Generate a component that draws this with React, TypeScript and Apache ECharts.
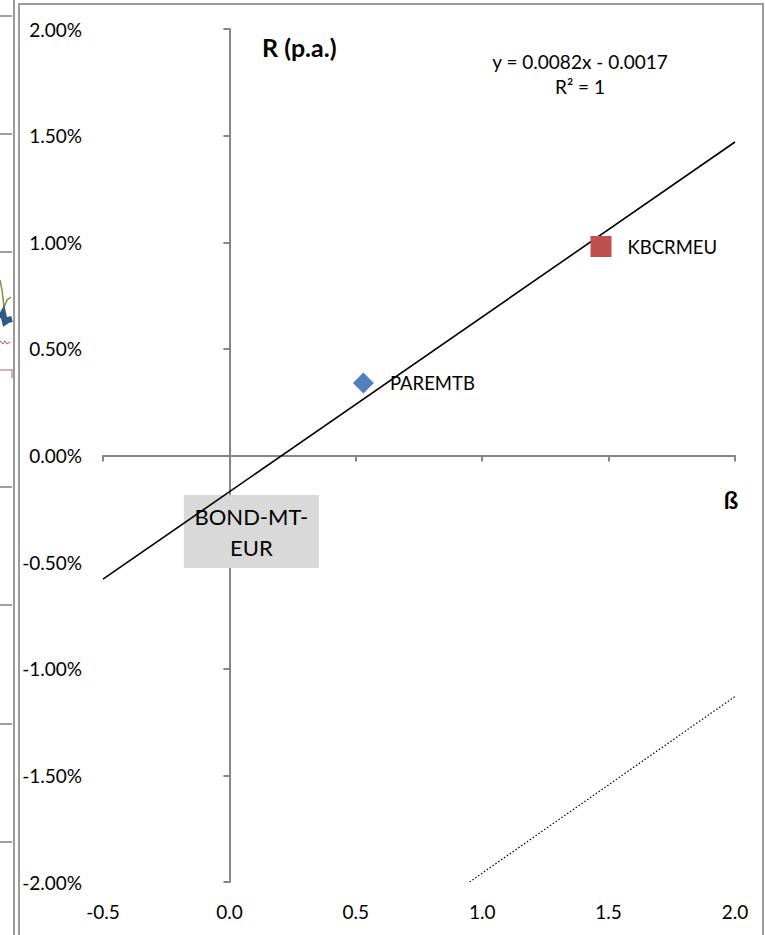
import React, { useEffect, useRef } from "react";
import * as echarts from "echarts";

// ---- data ----
const X_MIN = -0.5;
const X_MAX = 2.0;
const X_STEP = 0.5;
const Y_MIN = -2; // % p.a.
const Y_MAX = 2;
const Y_STEP = 0.5;

const POINT_NAMES = ["PAREMTB", "KBCRMEU"];
const POINT_BETA = [0.53, 1.47];
const POINT_RETURN = [0.34, 0.98]; // % p.a.
const POINT_COLORS = ["#4F81BD", "#C0504D"];
const POINT_SYMBOLS = ["diamond", "rect"];

const BENCH_NAME = "BOND-MT-EUR";
const BENCH_BETA = 0;
const BENCH_RETURN = 0;

const TREND_SLOPE = 0.0082;
const TREND_INTERCEPT = -0.0017;
const TREND_R2 = 1;

const DOTTED_BETA = [0.95, 2.0];
const DOTTED_RETURN = [-2.0, -1.13];

const Y_TITLE = "R (p.a.)";
const X_TITLE = "ß";

const FONT = "Lato, 'Open Sans', sans-serif";

export default function App() {
  const ref = useRef<HTMLDivElement>(null);
  useEffect(() => {
    document.body.style.margin = "0";
    const chart = echarts.init(ref.current!, null, { renderer: "svg" });
    const trend = (x: number) => (TREND_SLOPE * x + TREND_INTERCEPT) * 100;
    const gray = "#868686";
    const frame = "#9A9A9A";
    const fmtSigned = (v: number) =>
      (v < 0 ? " - " : " + ") + Math.abs(v).toFixed(4);

    const leftTicks = [16, 134, 252, 487, 605, 724, 842];

    const option: any = {
      animation: false,
      backgroundColor: "#ffffff",
      textStyle: { fontFamily: FONT },
      grid: { left: 103, right: 30, top: 29, bottom: 53 },
      xAxis: [
        {
          type: "value",
          min: X_MIN,
          max: X_MAX,
          interval: X_STEP,
          axisLine: {
            show: true,
            onZero: true,
            onZeroAxisIndex: 0,
            lineStyle: { color: gray, width: 2 },
          },
          axisTick: { show: true, length: 6, inside: false, lineStyle: { color: gray, width: 2 } },
          axisLabel: { show: false },
          splitLine: { show: false },
        },
        {
          type: "value",
          position: "bottom",
          min: X_MIN,
          max: X_MAX,
          interval: X_STEP,
          axisLine: { show: false, onZero: false },
          axisTick: { show: false },
          splitLine: { show: false },
          axisLabel: {
            show: true,
            margin: 20,
            color: "#000",
            fontSize: 19,
            fontFamily: FONT,
            formatter: (v: number) => v.toFixed(1),
          },
        },
      ],
      yAxis: [
        {
          type: "value",
          min: Y_MIN,
          max: Y_MAX,
          interval: Y_STEP,
          axisLine: {
            show: true,
            onZero: true,
            onZeroAxisIndex: 0,
            lineStyle: { color: gray, width: 2 },
          },
          axisTick: { show: true, length: 6, inside: false, lineStyle: { color: gray, width: 2 } },
          axisLabel: { show: false },
          splitLine: { show: false },
        },
        {
          type: "value",
          position: "left",
          min: Y_MIN,
          max: Y_MAX,
          interval: Y_STEP,
          axisLine: { show: false, onZero: false },
          axisTick: { show: false },
          splitLine: { show: false },
          axisLabel: {
            show: true,
            margin: 21,
            color: "#000",
            fontSize: 19,
            fontFamily: FONT,
            formatter: (v: number) => v.toFixed(2) + "%",
          },
        },
      ],
      series: [
        {
          type: "scatter",
          name: BENCH_NAME,
          z: 1,
          xAxisIndex: 0,
          yAxisIndex: 0,
          symbol: "rect",
          symbolSize: [135, 73],
          symbolOffset: [22, 76],
          itemStyle: { color: "#D9D9D9", opacity: 1 },
          data: [[BENCH_BETA, BENCH_RETURN]],
          label: {
            show: true,
            position: "inside",
            formatter: "BOND-MT-\nEUR",
            fontSize: 22,
            lineHeight: 31,
            align: "center",
            color: "#000",
            fontFamily: FONT,
          },
        },
        {
          type: "line",
          name: "trend",
          z: 5,
          xAxisIndex: 0,
          yAxisIndex: 0,
          symbol: "none",
          silent: true,
          lineStyle: { color: "#000", width: 1.6 },
          data: [
            [X_MIN, trend(X_MIN)],
            [X_MAX, trend(X_MAX)],
          ],
        },
        {
          type: "line",
          name: "dotted",
          z: 5,
          xAxisIndex: 0,
          yAxisIndex: 0,
          symbol: "none",
          silent: true,
          lineStyle: { color: "#000", width: 1.2, type: [1.5, 2] },
          data: DOTTED_BETA.map((b, i) => [b, DOTTED_RETURN[i]]),
        },
        ...POINT_NAMES.map((n, i) => ({
          type: "scatter",
          name: n,
          z: 6,
          xAxisIndex: 0,
          yAxisIndex: 0,
          symbol: POINT_SYMBOLS[i],
          symbolSize: 21,
          itemStyle: { color: POINT_COLORS[i], opacity: 1 },
          data: [[POINT_BETA[i], POINT_RETURN[i]]],
          label: {
            show: true,
            position: "right",
            distance: 16,
            formatter: n,
            color: "#000",
            fontSize: 18.5,
            fontFamily: FONT,
          },
        })),
      ],
      graphic: [
        // equation
        {
          type: "text",
          x: 580,
          y: 61,
          style: {
            text: "y = " + TREND_SLOPE.toFixed(4) + "x" + fmtSigned(TREND_INTERCEPT),
            fontSize: 19,
            fontFamily: FONT,
            fill: "#000",
            align: "center",
            verticalAlign: "middle",
          },
        },
        {
          type: "text",
          x: 580,
          y: 86,
          style: {
            text: "R² = " + TREND_R2,
            fontSize: 19,
            fontFamily: FONT,
            fill: "#000",
            align: "center",
            verticalAlign: "middle",
          },
        },
        {
          type: "text",
          x: 262,
          y: 47,
          style: {
            text: Y_TITLE,
            fontSize: 25,
            fontWeight: "bold",
            fontFamily: FONT,
            fill: "#000",
            align: "left",
            verticalAlign: "middle",
          },
        },
        {
          type: "text",
          x: 731,
          y: 499,
          style: {
            text: X_TITLE,
            fontSize: 24,
            fontWeight: "bold",
            fontFamily: FONT,
            fill: "#000",
            align: "center",
            verticalAlign: "middle",
          },
        },
        // frames
        { type: "line", shape: { x1: 19, y1: 4, x2: 764, y2: 4 }, style: { stroke: frame, lineWidth: 2 } },
        { type: "line", shape: { x1: 19, y1: 3, x2: 19, y2: 935 }, style: { stroke: frame, lineWidth: 2 } },
        { type: "line", shape: { x1: 763, y1: 3, x2: 763, y2: 935 }, style: { stroke: frame, lineWidth: 2 } },
        { type: "line", shape: { x1: 14, y1: 0, x2: 14, y2: 935 }, style: { stroke: frame, lineWidth: 2 } },
        // fragment of neighbouring chart
        ...leftTicks.map((y) => ({
          type: "line",
          shape: { x1: 0, y1: y, x2: 12, y2: y },
          style: { stroke: "#A0A0A0", lineWidth: 2 },
        })),
        { type: "line", shape: { x1: 0, y1: 370, x2: 12, y2: 370 }, style: { stroke: "#D9B3B3", lineWidth: 2 } },
        { type: "line", shape: { x1: 12, y1: 369, x2: 12, y2: 378 }, style: { stroke: "#A0A0A0", lineWidth: 1.5 } },
        {
          type: "polyline",
          shape: { points: [[0, 280], [2, 290], [4, 307], [7, 300], [11, 297]] },
          style: { stroke: "#77933C", lineWidth: 1.5, fill: "none" },
        },
        {
          type: "polyline",
          shape: { points: [[0, 318], [3, 313], [5, 322], [8, 320], [12, 319]] },
          style: { stroke: "#2F5A8A", lineWidth: 6, fill: "none" },
        },
        {
          type: "polyline",
          shape: { points: [[0, 341], [3, 344], [5, 341], [7, 344], [10, 342]] },
          style: { stroke: "#C0504D", lineWidth: 1, fill: "none" },
        },
      ],
    };
    chart.setOption(option);
    return () => chart.dispose();
  }, []);
  return (
    <div
      ref={ref}
      style={{ width: 765, height: 935, position: "absolute", left: 0, top: 0 }}
    />
  );
}
